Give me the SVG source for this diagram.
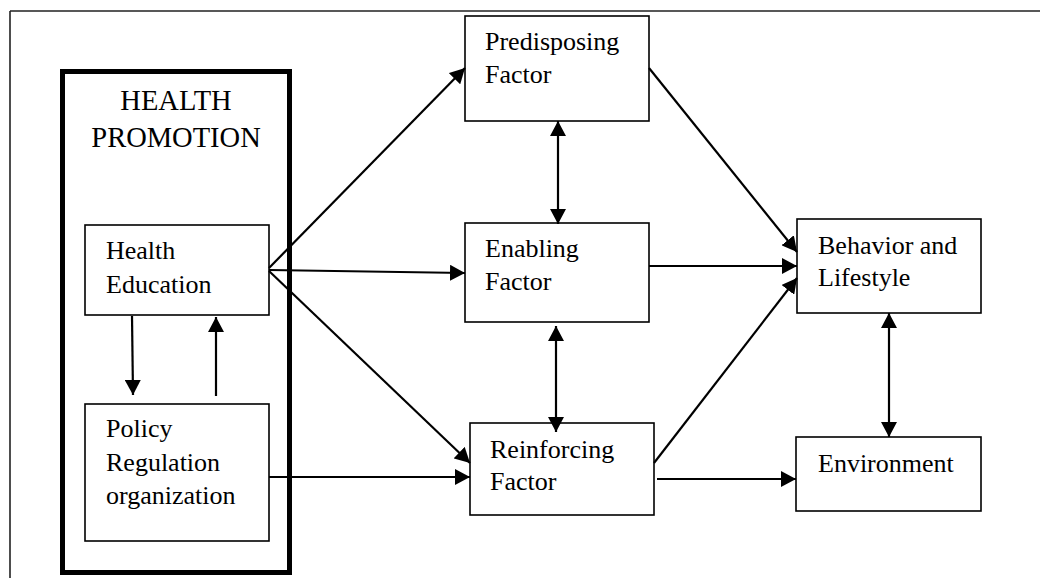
<svg xmlns="http://www.w3.org/2000/svg" width="1040" height="578" viewBox="0 0 1040 578">
<defs>
<marker id="ah" markerUnits="userSpaceOnUse" markerWidth="15" markerHeight="16" refX="15" refY="8" orient="auto-start-reverse" viewBox="0 0 15 16">
<path d="M0,0 L15,8 L0,16 z" fill="#000"/>
</marker>
<style>
.box{fill:#fff;stroke:#000;stroke-width:1.6}
.t{font-family:"Liberation Serif","Times New Roman",serif;font-size:26px;fill:#000}
.big{font-family:"Liberation Serif","Times New Roman",serif;font-size:28.5px;fill:#000}
.c{stroke:#000;stroke-width:2.2;fill:none;marker-end:url(#ah)}
.cb{stroke:#000;stroke-width:2.2;fill:none;marker-end:url(#ah);marker-start:url(#ah)}
</style>
</defs>
<rect width="1040" height="578" fill="#fff"/>
<g id="frame">
<path d="M10,11 H1040 M10,11 V578" stroke="#222" stroke-width="1.6" fill="none"/>
</g>
<g id="health-promotion">
<rect x="62.5" y="71.5" width="227" height="501" fill="none" stroke="#000" stroke-width="5"/>
<text class="big" x="176" y="110" text-anchor="middle">HEALTH</text>
<text class="big" x="176" y="147" text-anchor="middle">PROMOTION</text>
</g>
<g id="health-education">
<rect class="box" x="85" y="225" width="184" height="90"/>
<text class="t" x="106" y="259">Health</text>
<text class="t" x="106" y="293">Education</text>
</g>
<g id="policy">
<rect class="box" x="85" y="404" width="184" height="137"/>
<text class="t" x="106" y="437">Policy</text>
<text class="t" x="106" y="471">Regulation</text>
<text class="t" x="106" y="504">organization</text>
</g>
<g id="predisposing">
<rect class="box" x="465" y="16" width="184" height="105"/>
<text class="t" x="485" y="50">Predisposing</text>
<text class="t" x="485" y="83">Factor</text>
</g>
<g id="enabling">
<rect class="box" x="465" y="223" width="184" height="99"/>
<text class="t" x="485" y="257">Enabling</text>
<text class="t" x="485" y="290">Factor</text>
</g>
<g id="reinforcing">
<rect class="box" x="470" y="423" width="184" height="92"/>
<text class="t" x="490" y="458">Reinforcing</text>
<text class="t" x="490" y="490">Factor</text>
</g>
<g id="behavior">
<rect class="box" x="797" y="219" width="184" height="94"/>
<text class="t" x="818" y="254">Behavior and</text>
<text class="t" x="818" y="286">Lifestyle</text>
</g>
<g id="environment">
<rect class="box" x="796" y="437" width="185" height="74"/>
<text class="t" x="818" y="472">Environment</text>
</g>
<g id="connectors">
<line class="c" x1="132" y1="316" x2="133" y2="395"/>
<line class="c" x1="216" y1="396" x2="216" y2="317"/>
<line class="c" x1="269" y1="268" x2="465" y2="68"/>
<line class="c" x1="269" y1="270" x2="465" y2="273"/>
<line class="c" x1="269" y1="271" x2="470" y2="463"/>
<line class="c" x1="269" y1="477" x2="470" y2="477"/>
<line class="cb" x1="558" y1="121" x2="558" y2="224"/>
<line class="cb" x1="556" y1="326" x2="556" y2="432"/>
<line class="c" x1="649" y1="68" x2="797" y2="252"/>
<line class="c" x1="649" y1="266" x2="797" y2="266"/>
<line class="c" x1="654" y1="463" x2="797" y2="278"/>
<line class="c" x1="657" y1="479" x2="796" y2="479"/>
<line class="cb" x1="889" y1="313" x2="889" y2="437"/>
</g>
</svg>
